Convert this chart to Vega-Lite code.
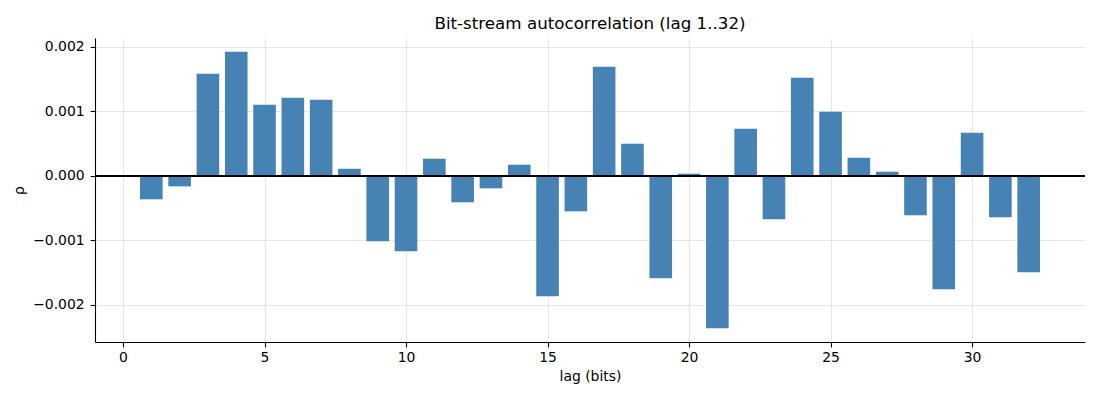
{
  "$schema": "https://vega.github.io/schema/vega-lite/v6.json",
  "width": 990,
  "height": 304,
  "autosize": {"type": "none"},
  "padding": {"left": 95, "top": 38, "right": 15, "bottom": 58},
  "title": {
    "text": "Bit-stream autocorrelation (lag 1..32)",
    "font": "DejaVu Sans",
    "fontSize": 16.7,
    "fontWeight": "normal",
    "color": "#000000",
    "anchor": "middle",
    "baseline": "bottom",
    "offset": 8,
    "dy": 20
  },
  "data": {
    "values": [
      {"lag": 1, "rho": -0.000366},
      {"lag": 2, "rho": -0.000165},
      {"lag": 3, "rho": 0.001577},
      {"lag": 4, "rho": 0.001918},
      {"lag": 5, "rho": 0.001098},
      {"lag": 6, "rho": 0.001206},
      {"lag": 7, "rho": 0.001175},
      {"lag": 8, "rho": 0.000108},
      {"lag": 9, "rho": -0.001015},
      {"lag": 10, "rho": -0.00117},
      {"lag": 11, "rho": 0.000263},
      {"lag": 12, "rho": -0.000412},
      {"lag": 13, "rho": -0.000196},
      {"lag": 14, "rho": 0.00017},
      {"lag": 15, "rho": -0.001866},
      {"lag": 16, "rho": -0.000552},
      {"lag": 17, "rho": 0.001686},
      {"lag": 18, "rho": 0.000495},
      {"lag": 19, "rho": -0.001588},
      {"lag": 20, "rho": 0.000031},
      {"lag": 21, "rho": -0.002361},
      {"lag": 22, "rho": 0.000727},
      {"lag": 23, "rho": -0.000675},
      {"lag": 24, "rho": 0.001515},
      {"lag": 25, "rho": 0.00099},
      {"lag": 26, "rho": 0.000278},
      {"lag": 27, "rho": 0.000062},
      {"lag": 28, "rho": -0.000613},
      {"lag": 29, "rho": -0.001758},
      {"lag": 30, "rho": 0.000665},
      {"lag": 31, "rho": -0.000644},
      {"lag": 32, "rho": -0.001495}
    ]
  },
  "layer": [
    {
      "mark": {"type": "bar", "color": "#4682b4", "size": 22.6},
      "encoding": {
        "x": {
          "field": "lag",
          "type": "quantitative",
          "title": "lag (bits)",
          "scale": {"domain": [-0.99, 33.99], "nice": false, "zero": false, "padding": 0},
          "axis": {"values": [0, 5, 10, 15, 20, 25, 30], "format": "d", "titlePadding": 5}
        },
        "y": {
          "field": "rho",
          "type": "quantitative",
          "title": "ρ",
          "scale": {"domain": [-0.002575, 0.002132], "nice": false, "padding": 0},
          "axis": {"values": [-0.002, -0.001, 0, 0.001, 0.002], "format": ".3f", "titlePadding": 6, "labelPadding": 6}
        }
      }
    },
    {
      "mark": {"type": "rule", "color": "#000000", "strokeWidth": 1},
      "encoding": {"y": {"datum": 0}}
    }
  ],
  "config": {
    "view": {"stroke": null},
    "axis": {
      "zindex": 1,
      "domainColor": "#000000",
      "domainWidth": 1.1,
      "tickColor": "#000000",
      "tickWidth": 1.1,
      "tickSize": 4.9,
      "labelPadding": 4,
      "labelFont": "DejaVu Sans",
      "labelFontSize": 13.9,
      "labelColor": "#000000",
      "titleFont": "DejaVu Sans",
      "titleFontSize": 13.9,
      "titleFontWeight": "normal",
      "titleColor": "#000000",
      "grid": true,
      "gridColor": "#b0b0b0",
      "gridOpacity": 0.3,
      "gridWidth": 1.1
    }
  }
}
